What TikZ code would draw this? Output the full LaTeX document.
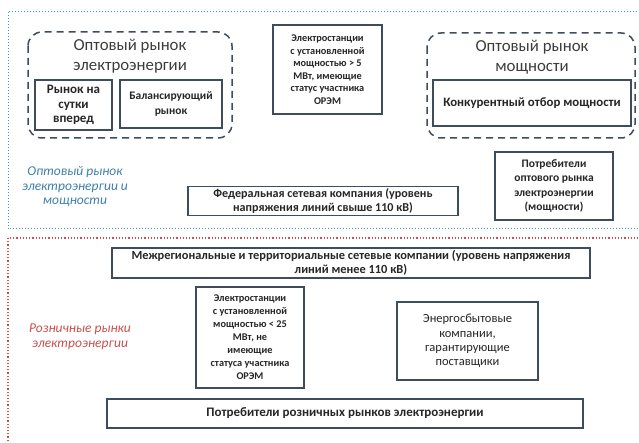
\documentclass[tikz,border=0pt]{standalone}
\usepackage{fontspec}
\setmainfont{Carlito}
\definecolor{boxline}{HTML}{3E4C5E}
\definecolor{wholesale}{HTML}{3E9AA8}
\definecolor{retail}{HTML}{C8504D}
\definecolor{labblue}{HTML}{3F7FA8}
\definecolor{txt}{HTML}{262626}
\newcommand{\fs}[1]{\fontsize{#1}{14.5}\selectfont\bfseries}
\newcommand{\fr}[2]{\fontsize{#1}{#2}\selectfont}
\begin{document}
\begin{tikzpicture}[x=1pt,y=-1pt,
    market/.style={draw=boxline,line width=1.6pt,fill=white,align=center,inner sep=2pt,
        font=\fs{11.5},text=txt},
    group/.style={draw=boxline,line width=1.5pt,dash pattern=on 7pt off 5pt,rounded corners=14pt},
    grouptitle/.style={align=center,font=\fontsize{16.8}{20}\selectfont,text=txt!90},
    zonelabel/.style={align=center,font=\fontsize{13.5}{14.5}\selectfont\itshape}]
    \useasboundingbox (0,0) rectangle (639,443);
    % zones
    \draw [wholesale,dotted,line width=1pt] (8,12) rectangle (650,229);
    \draw [retail,dotted,line width=1.2pt] (8,238) rectangle (650,460);
    \node[zonelabel,text=labblue] (optlab) at (75,187) {Оптовый рынок\\электроэнергии и\\мощности};
    \node[zonelabel,text=retail] (roznlab) at (80,337) {Розничные рынки\\электроэнергии};
    % wholesale market of electric energy
    \draw [group] (28,32) rectangle (232,138);
    \node[grouptitle] (oreTitle) at (130,56) {Оптовый рынок\\электроэнергии};
    \node[market,minimum width=77pt,minimum height=50pt,font=\fs{13}] (rsv) at (73.5,105) {Рынок на\\сутки\\вперед};
    \node[market,minimum width=102pt,minimum height=48pt] (br) at (171,104) {Балансирующий\\рынок};
    % capacity market
    \draw [group] (427,33) rectangle (635,138);
    \node[grouptitle] (ormTitle) at (532,57) {Оптовый рынок\\мощности};
    \node[market,minimum width=198pt,minimum height=46pt,font=\fs{12.8}] (kom) at (532,103) {Конкурентный отбор мощности};
    % other wholesale participants
    \node[market,minimum width=109pt,minimum height=89pt,font=\fr{10.3}{12.5}\bfseries] (es5) at (327.5,69.5) {Электростанции\\с установленной\\мощностью > 5\\МВт, имеющие\\статус участника\\ОРЭМ};
    \node[market,minimum width=118pt,minimum height=68pt] (potrOpt) at (554,186) {Потребители\\оптового рынка\\электроэнергии\\(мощности)};
    \node[market,minimum width=270pt,minimum height=28pt,font=\fs{12.1}] (fsk) at (323,201) {Федеральная сетевая компания (уровень\\напряжения линий свыше 110 кВ)};
    % retail
    \node[market,minimum width=478pt,minimum height=30pt,font=\fs{12.4}] (mrsk) at (351,263) {Межрегиональные и территориальные сетевые компании (уровень напряжения\\линий менее 110 кВ)};
    \node[market,minimum width=108pt,minimum height=101pt,font=\fr{10.3}{13}\bfseries] (es25) at (250,337.5) {Электростанции\\с установленной\\мощностью < 25\\МВт, не\\имеющие\\статуса участника\\ОРЭМ};
    \node[market,minimum width=141pt,minimum height=78pt,font=\fr{12.5}{14.3}] (sbyt) at (467.5,341) {Энергосбытовые\\компании,\\гарантирующие\\поставщики};
    \node[market,minimum width=476pt,minimum height=29pt,font=\fs{13}] (potrRozn) at (345,413.5) {Потребители розничных рынков электроэнергии};
\end{tikzpicture}
\end{document}
